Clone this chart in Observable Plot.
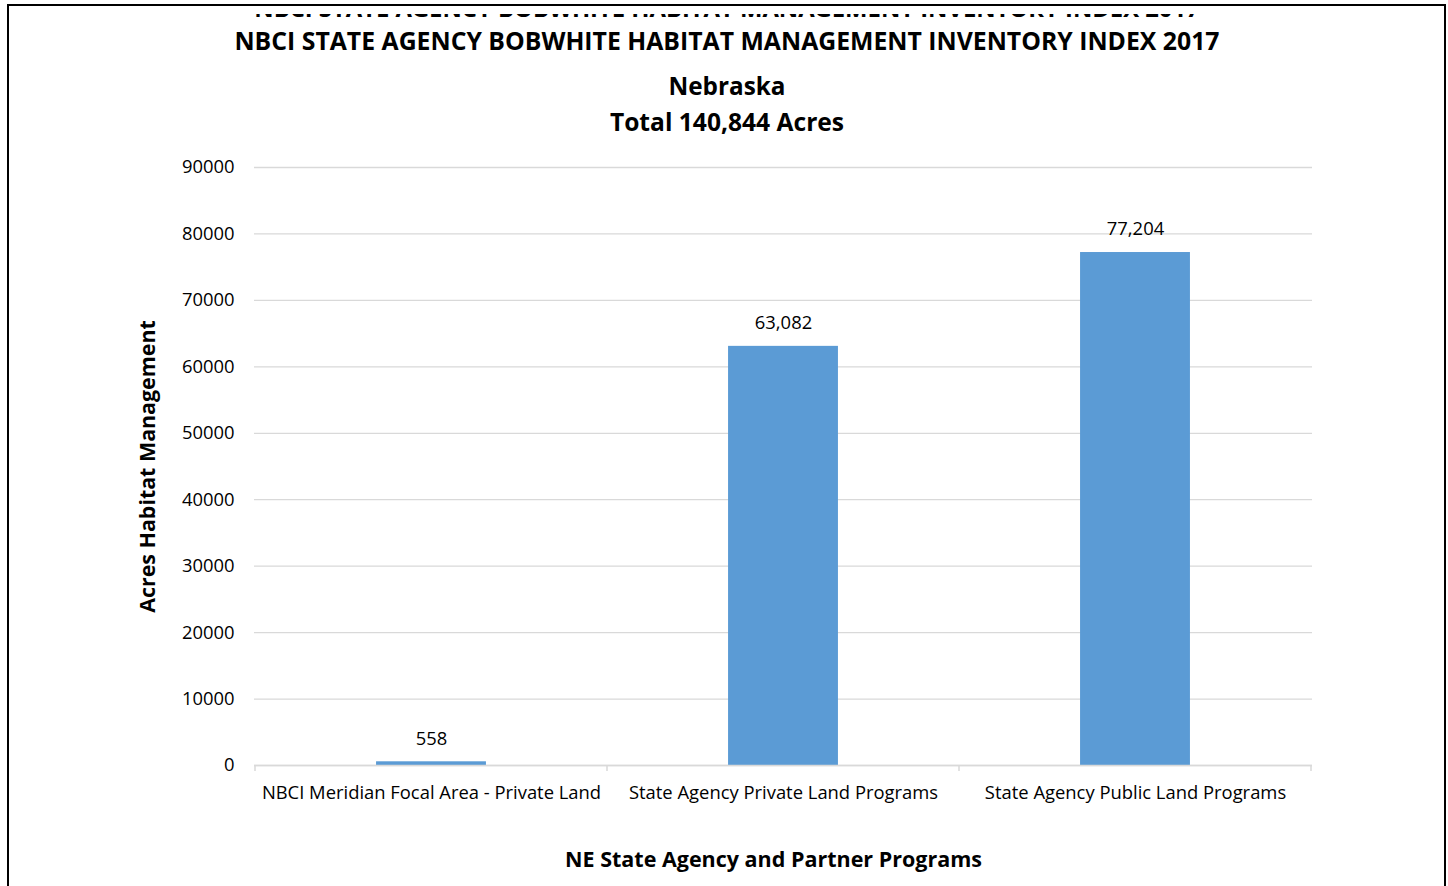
<!DOCTYPE html>
<html><head><meta charset="utf-8">
<script src="https://cdn.jsdelivr.net/npm/d3@7"></script>
<script src="https://cdn.jsdelivr.net/npm/@observablehq/plot@0.6"></script>
<style>
body{margin:0;background:#fff;font-family:"Open Sans",sans-serif;color:#000;}
#wrap{position:relative;width:1448px;height:886px;overflow:hidden;background:#fff;}
#frame{position:absolute;left:7px;top:4px;width:1435px;height:1000px;border:2.5px solid #000;}
#chart{position:absolute;left:0;top:0;}
.t{position:absolute;left:0;width:1454px;text-align:center;font-weight:bold;white-space:nowrap;}
#ghostClip{position:absolute;left:0;top:14px;width:1448px;height:3px;overflow:hidden;}
#ghost{position:absolute;left:0;top:-17.7px;width:1454px;text-align:center;font-weight:bold;font-size:23.8px;line-height:24px;white-space:nowrap;}
</style>
</head><body>
<div id="wrap">
  <div id="frame"></div>
  <div id="chart"></div>
  <div id="ghostClip"><div id="ghost"></div></div>
  <div class="t" id="title" style="top:27px;font-size:24.8px;line-height:26px;"></div>
  <div class="t" id="sub1" style="top:72px;font-size:24.3px;line-height:28px;"></div>
  <div class="t" id="sub2" style="top:108px;font-size:24.6px;line-height:28px;"></div>
</div>
<script>
const titleText = "NBCI STATE AGENCY BOBWHITE HABITAT MANAGEMENT INVENTORY INDEX 2017";
const subtitleLines = ["Nebraska", "Total 140,844 Acres"];
const yAxisTitle = "Acres Habitat Management";
const xAxisTitle = "NE State Agency and Partner Programs";
const categories = ["NBCI Meridian Focal Area - Private Land", "State Agency Private Land Programs", "State Agency Public Land Programs"];
const acres = [558, 63082, 77204];
const valueLabels = ["558", "63,082", "77,204"];
const yTicks = [0, 10000, 20000, 30000, 40000, 50000, 60000, 70000, 80000, 90000];

document.getElementById("ghost").textContent = titleText;
document.getElementById("title").textContent = titleText;
document.getElementById("sub1").textContent = subtitleLines[0];
document.getElementById("sub2").textContent = subtitleLines[1];

const data = categories.map((c, i) => ({program: c, acres: acres[i], label: valueLabels[i]}));

const W = 1448, H = 886, mL = 254, mR = 136, mT = 167, mB = 121;
const step = (W - mL - mR) / categories.length;
const inset = step * (1 - 1 / 3.19) / 2;
const gridColor = "#D9D9D9";

const bandTicks = (index, scales, values, dims) => {
  const g = d3.create("svg:g").attr("stroke", gridColor).attr("stroke-width", 1.5);
  const xs = categories.map(c => scales.x(c));
  const s = xs[1] - xs[0];
  xs.push(xs[xs.length - 1] + s);
  const y0 = scales.y(0);
  for (const x of xs) {
    g.append("line").attr("x1", x).attr("x2", x).attr("y1", y0).attr("y2", y0 + 6);
  }
  return g.node();
};

const chart = Plot.plot({
  width: W, height: H,
  marginLeft: mL, marginRight: mR, marginTop: mT, marginBottom: mB,
  style: {fontFamily: "'Open Sans', sans-serif", fontSize: "18.4px", color: "#000", background: "transparent"},
  x: {domain: categories, padding: 0},
  y: {domain: [0, 90000]},
  marks: [
    Plot.gridY(yTicks, {stroke: gridColor, strokeOpacity: 1, strokeWidth: 1.3}),
    Plot.barY(data, {x: "program", y: "acres", fill: "#5B9BD5", insetLeft: inset, insetRight: inset}),
    Plot.ruleY([0], {stroke: gridColor, strokeWidth: 1.5}),
    bandTicks,
    Plot.axisY({ticks: yTicks, tickSize: 0, tickPadding: 20, tickFormat: d3.format("d"), label: null, fontSize: 18.4, fill: "#000"}),
    Plot.axisX({tickSize: 0, tickPadding: 20, label: null, fontSize: 18.4, fill: "#000"}),
    Plot.text(data, {x: "program", y: "acres", text: "label", dy: -23, fontSize: 18.4, fill: "#000"}),
    Plot.text([yAxisTitle], {frameAnchor: "left", textAnchor: "middle", rotate: -90, dx: -106, fontWeight: "bold", fontSize: 21.4, fill: "#000"}),
    Plot.text([xAxisTitle], {frameAnchor: "bottom", dx: -10, dy: 101, fontWeight: "bold", fontSize: 21.5, fill: "#000"})
  ]
});
document.getElementById("chart").appendChild(chart);
</script>
</body></html>
